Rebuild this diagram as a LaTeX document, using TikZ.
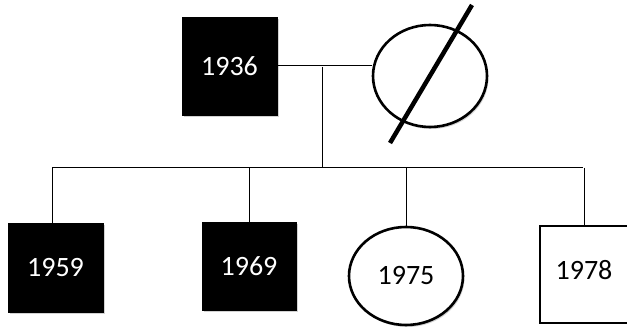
\documentclass[tikz,border=0pt]{standalone}
\usepackage{fontspec}
\setmainfont{Carlito}
\usetikzlibrary{shapes.geometric,shadows}
\begin{document}
\begin{tikzpicture}[x=1pt,y=-1pt,
  lbl/.style={font=\fontsize{28}{30}\selectfont},
  male/.style={lbl,rectangle,draw=black,fill=black,text=white,inner sep=0pt,drop shadow={shadow xshift=1.5pt,shadow yshift=-2pt,fill=gray!70}},
  openmale/.style={lbl,rectangle,draw=black,line width=2.2pt,fill=white,inner sep=0pt},
  female/.style={lbl,ellipse,draw=black,line width=2.6pt,fill=white,inner sep=0pt,drop shadow={shadow xshift=1.5pt,shadow yshift=-2pt,fill=gray!70}},
  link/.style={draw=black,line width=1pt}]
\useasboundingbox (0,0) rectangle (627,328);
% parents
\node[male,minimum width=95pt,minimum height=98pt] (f) at (229.5,66) {1936};
\node[female,minimum width=114pt,minimum height=102pt] (m) at (430,76) {};
\draw[line width=4.5pt] (472,5) -- (390,143);
% children
\node[male,minimum width=95pt,minimum height=89pt] (c1) at (55.5,267.5) {1959};
\node[male,minimum width=94pt,minimum height=88pt] (c2) at (249,266) {1969};
\node[female,minimum width=114pt,minimum height=98pt] (c3) at (406,276) {1975};
\node[openmale,minimum width=88pt,minimum height=97pt] (c4) at (584,274.5) {\raisebox{10pt}{1978}};
% connectors
\coordinate (mid) at (322,67);
\coordinate (sibL) at (52,168);
\coordinate (sibR) at (583,168);
\draw[link] (f.east) -- (f.east -| m.west);
\draw[link] (mid) -- (mid |- sibL);
\draw[link] (sibL) -- (sibR);
\draw[link] (sibL) -- (sibL |- c1.north);
\draw[link] (c2.north |- sibL) -- (c2.north);
\draw[link] (c3.north |- sibL) -- (c3.north);
\draw[link] (c4.north |- sibL) -- (c4.north);
\end{tikzpicture}
\end{document}
